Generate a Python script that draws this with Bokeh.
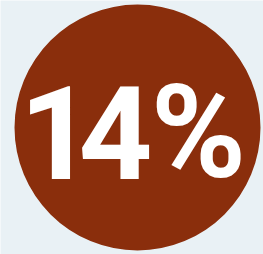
from bokeh.plotting import figure
from bokeh.models import ColumnDataSource, Range1d
from bokeh.core.properties import value
from bokeh.embed import file_html
from bokeh.resources import INLINE

# data
share_value = [14]
share_label = ["14%"]

W, H = 263, 254
p = figure(width=W, height=H, output_backend="svg", toolbar_location=None,
           x_range=Range1d(0, W), y_range=Range1d(H, 0), min_border=0)
p.axis.visible = False
p.grid.visible = False
p.outline_line_color = None
p.background_fill_color = "#e9f1f5"
p.border_fill_color = "#e9f1f5"

src = ColumnDataSource(dict(x=[137], y=[127], r=[123], v=share_value))
p.circle(x="x", y="y", radius="r", source=src, fill_color="#8a2e0c", line_color=None)

chars = list(share_label[0])
char_x = [56, 115, 198]
csrc = ColumnDataSource(dict(x=char_x, y=[132] * len(chars), t=chars))
p.text(x="x", y="y", text="t", source=csrc, text_color="white",
       text_font=value("Roboto"), text_font_style="bold", text_font_size="129px",
       text_align="center", text_baseline="alphabetic")

open("out.html", "w").write(file_html(p, INLINE))
